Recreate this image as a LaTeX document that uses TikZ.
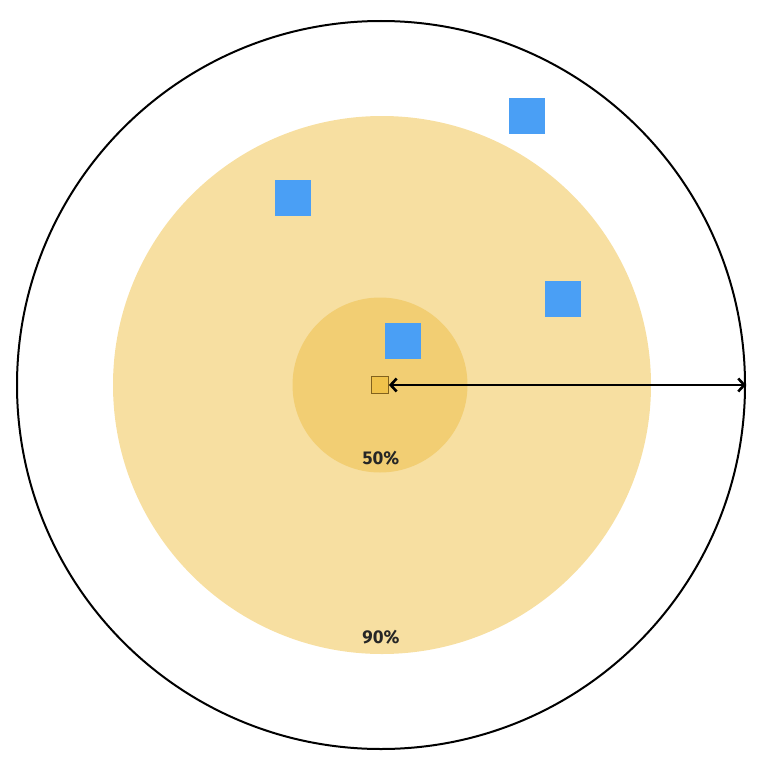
\documentclass[tikz,border=0pt]{standalone}
\usepackage{fontspec}
\setmainfont{Fira Sans}
\usetikzlibrary{arrows.meta,positioning}
\definecolor{ZoneNinety}{RGB}{247,223,161}
\definecolor{ZoneFifty}{RGB}{242,206,115}
\definecolor{CoreFill}{RGB}{240,194,75}
\definecolor{CoreEdge}{RGB}{130,98,30}
\definecolor{SiteBlue}{RGB}{74,159,245}
\tikzset{
  zone/.style={circle,inner sep=0pt,draw=none},
  site/.style={rectangle,fill=SiteBlue,inner sep=0pt,minimum size=36pt},
  pct/.style={font=\fontsize{18.5}{22}\selectfont\bfseries,text=black!85},
  reach/.style={{Straight Barb[length=6pt,width=13pt]}-{Straight Barb[length=6pt,width=13pt]},line width=2.6pt,black}
}
\begin{document}
\begin{tikzpicture}[x=1pt,y=-1pt]
  \useasboundingbox (0,0) rectangle (768,768);
  % zones round the core
  \node[circle,draw=black,line width=2pt,inner sep=0pt,minimum size=728pt] (outer) at (381,385) {};
  \node[zone,fill=ZoneNinety,minimum size=538pt] (ninety) at (382,385) {};
  \node[zone,fill=ZoneFifty,minimum size=175pt] (fifty) at (380,385) {};

  % sites
  \node[site] (siteA) at (527,116) {};
  \node[site] (siteB) at (293,198) {};
  \node[site] (siteC) at (563,299) {};
  \node[site] (siteD) at (403,341) {};

  % core and radius
  \node[rectangle,fill=CoreFill,draw=CoreEdge,line width=0.8pt,inner sep=0pt,minimum size=17pt] (core) at (380,385) {};
  \draw[reach] (core.east) -- (outer.east);

  % labels
  \node[pct] (lblfifty) at (381,458) {50\%};
  \node[pct] (lblninety) at (381,637) {90\%};
\end{tikzpicture}
\end{document}
